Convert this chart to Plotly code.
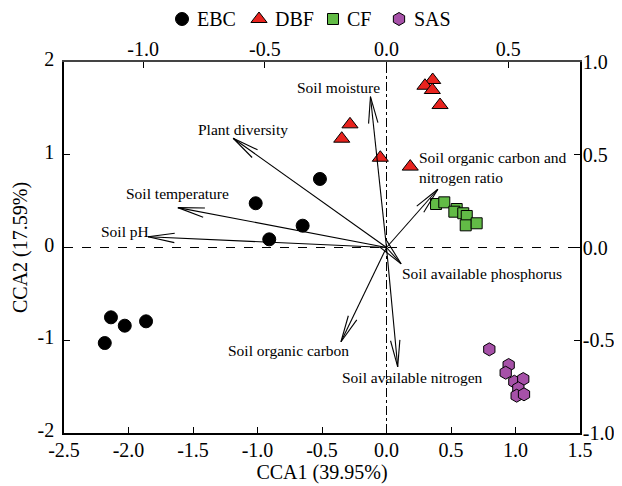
import numpy as np
import plotly.graph_objects as go

# ---------------- data ----------------
ebc_x = [-0.516, -1.014, -0.650, -0.909, -2.136, -2.029, -1.864, -2.184]
ebc_y = [0.739, 0.477, 0.235, 0.088, -0.753, -0.843, -0.796, -1.030]

dbf_x = [0.358, 0.298, 0.355, 0.415, -0.283, -0.347, -0.048, 0.184]
dbf_y = [1.806, 1.744, 1.698, 1.536, 1.328, 1.173, 0.968, 0.872]

cf_x = [0.384, 0.448, 0.544, 0.526, 0.595, 0.622, 0.614, 0.699]
cf_y = [0.469, 0.487, 0.415, 0.386, 0.369, 0.340, 0.239, 0.261]

sas_x = [0.797, 0.947, 0.924, 0.991, 1.060, 1.022, 1.009, 1.066]
sas_y = [-1.098, -1.267, -1.350, -1.447, -1.418, -1.518, -1.598, -1.583]

# environmental vectors (biplot scores, top/right axes)
env_names = ["Soil moisture", "Plant diversity", "Soil temperature", "Soil pH",
             "Soil organic carbon and<br>nitrogen ratio", "Soil available phosphorus",
             "Soil organic carbon", "Soil available nitrogen"]
env_x = [-0.066, -0.630, -0.857, -0.980, 0.211, 0.060, -0.187, 0.046]
env_y = [0.813, 0.589, 0.215, 0.058, 0.314, -0.088, -0.508, -0.643]

# label placement (primary axis units) and anchor
lab_x = [-0.035, -1.114, -1.622, -2.027, 0.239, 0.105, -0.760, 0.199]
lab_y = [1.730, 1.267, 0.584, 0.170, 0.862, -0.278, -1.113, -1.404]
lab_anchor = ["right", "center", "center", "center", "left", "left", "center", "center"]

x_ticks = [-2.5, -2.0, -1.5, -1.0, -0.5, 0.0, 0.5, 1.0, 1.5]
x_ticktext = ["-2.5", "-2.0", "-1.5", "-1.0", "-0.5", "0.0", "0.5", "1.0", "1.5"]
y_ticks = [-2, -1, 0, 1, 2]
y_ticktext = ["-2", "-1", "0", "1", "2"]
x2_ticks = [-1.0, -0.5, 0.0, 0.5]
x2_ticktext = ["-1.0", "-0.5", "0.0", "0.5"]
y2_ticks = [-1.0, -0.5, 0.0, 0.5, 1.0]
y2_ticktext = ["-1.0", "-0.5", "0.0", "0.5", "1.0"]

groups = ["EBC", "DBF", "CF", "SAS"]
group_symbols = ["circle", "triangle-up", "square", "hexagon"]
group_colors = ["black", "#e8231e", "#62bb46", "#a651a8"]
group_sizes = [13, 14, 11, 13]

# ---------------- layout geometry ----------------
# the page adds an 8 px body margin, so the figure is 8 px smaller each way
W, H = 614, 478
ML, MR, MT, MB = 56, 42, 54, 53
X_RANGE = [-2.5, 1.5]
Y_RANGE = [-2, 2]
K = 0.53
X2_RANGE = [X_RANGE[0] * K, X_RANGE[1] * K]
Y2_RANGE = [-1, 1]
pw, ph = W - ML - MR, H - MT - MB
ppx2 = pw / (X2_RANGE[1] - X2_RANGE[0])
ppy2 = ph / (Y2_RANGE[1] - Y2_RANGE[0])
paper_h = H - MB                      # top margin = 0, legend lives in paper
main_top = ph / paper_h               # domain top for main axes
leg_bottom = 0.92
leg_px_range = [ML, W - MR]
leg_py_range = [paper_h * (1 - leg_bottom), 0]
leg_sym_x = [174, 251, 325, 391]
leg_txt_x = [187, 265, 337, 404]
leg_y = 11

FONT = "Liberation Serif, Times New Roman, serif"

fig = go.Figure()

series = [(ebc_x, ebc_y), (dbf_x, dbf_y), (cf_x, cf_y), (sas_x, sas_y)]
mk_line = dict(color="black", width=1)
for (sx, sy), g, sym, col, sz in zip(series, groups, group_symbols, group_colors, group_sizes):
    fig.add_trace(go.Scatter(x=sx, y=sy, mode="markers", name=g, showlegend=False,
                             marker=dict(symbol=sym, size=sz, color=col, line=mk_line)))

# legend (manual, so the spacing follows the reference)
for g, sym, col, sz, lx, tx in zip(groups, group_symbols, group_colors, group_sizes,
                                   leg_sym_x, leg_txt_x):
    fig.add_trace(go.Scatter(x=[lx], y=[leg_y], mode="markers", xaxis="x3", yaxis="y3",
                             showlegend=False, hoverinfo="skip", cliponaxis=False,
                             marker=dict(symbol=sym, size=sz, color=col, line=mk_line)))
    fig.add_annotation(x=tx, y=leg_y, xref="x3", yref="y3", text=g, showarrow=False,
                       xanchor="left", yanchor="middle",
                       font=dict(family=FONT, size=20, color="black"))

# arrows
ax_lines, ay_lines = [], []
HEAD_LEN = 27.0
HEAD_ANG = np.deg2rad(10)
for vx, vy in zip(env_x, env_y):
    ax_lines += [0, vx, None]
    ay_lines += [0, vy, None]
    px, py = -vx * ppx2, -vy * ppy2
    n = np.hypot(px, py)
    ux, uy = px / n, py / n
    for s in (1, -1):
        c, si = np.cos(s * HEAD_ANG), np.sin(s * HEAD_ANG)
        rx, ry = ux * c - uy * si, ux * si + uy * c
        ax_lines += [vx, vx + rx * HEAD_LEN / ppx2, None]
        ay_lines += [vy, vy + ry * HEAD_LEN / ppy2, None]
fig.add_trace(go.Scatter(x=ax_lines, y=ay_lines, mode="lines", xaxis="x2", yaxis="y2",
                         line=dict(color="black", width=1.1), showlegend=False, hoverinfo="skip"))

for name, lx, ly, anc in zip(env_names, lab_x, lab_y, lab_anchor):
    fig.add_annotation(x=lx, y=ly, xref="x", yref="y", text=name, showarrow=False,
                       xanchor=anc, yanchor="middle", align="left",
                       font=dict(family=FONT, size=15.5, color="black"))

# reference lines
fig.add_shape(type="line", xref="x", yref="y", x0=X_RANGE[0], x1=X_RANGE[1], y0=0, y1=0,
              line=dict(color="black", width=1, dash="dash"), layer="below")
fig.add_shape(type="line", xref="x", yref="y", x0=0, x1=0, y0=Y_RANGE[0], y1=Y_RANGE[1],
              line=dict(color="black", width=1, dash="dashdot"), layer="below")

tickfont = dict(family=FONT, size=20, color="black")
common = dict(showgrid=False, zeroline=False, showline=True, ticks="inside", ticklen=6,
              tickcolor="black", tickfont=tickfont)

fig.update_layout(
    width=W, height=H,
    margin=dict(l=ML, r=MR, t=0, b=MB, autoexpand=False),
    paper_bgcolor="white", plot_bgcolor="white",
    font=dict(family=FONT, size=20, color="black"),
    showlegend=False,
    xaxis=dict(range=X_RANGE, tickvals=x_ticks, ticktext=x_ticktext, linecolor="black",
               linewidth=1.5, anchor="y", ticklabelstandoff=-2,
               title=dict(text="CCA1 (39.95%)", standoff=5, font=dict(family=FONT, size=20)),
               **common),
    yaxis=dict(range=Y_RANGE, domain=[0, main_top], tickvals=y_ticks, ticktext=y_ticktext,
               linecolor="black", linewidth=1.5, anchor="x", ticklabelstandoff=4,
               ticklabelshift=-3,
               title=dict(text="CCA2 (17.59%)", standoff=5, font=dict(family=FONT, size=20)),
               **common),
    xaxis2=dict(range=X2_RANGE, overlaying="x", side="top", anchor="y", tickvals=x2_ticks,
                ticktext=x2_ticktext, linecolor="#444444", linewidth=2, ticklabelstandoff=-4,
                **common),
    yaxis2=dict(range=Y2_RANGE, overlaying="y", side="right", anchor="x", tickvals=y2_ticks,
                ticktext=y2_ticktext, linecolor="black", linewidth=1.5, ticklabelstandoff=-3,
                **common),
    xaxis3=dict(range=leg_px_range, domain=[0, 1], anchor="y3", visible=False,
                fixedrange=True),
    yaxis3=dict(range=leg_py_range, domain=[leg_bottom, 1], anchor="x3", visible=False,
                fixedrange=True),
)

fig.write_html("out.html")
